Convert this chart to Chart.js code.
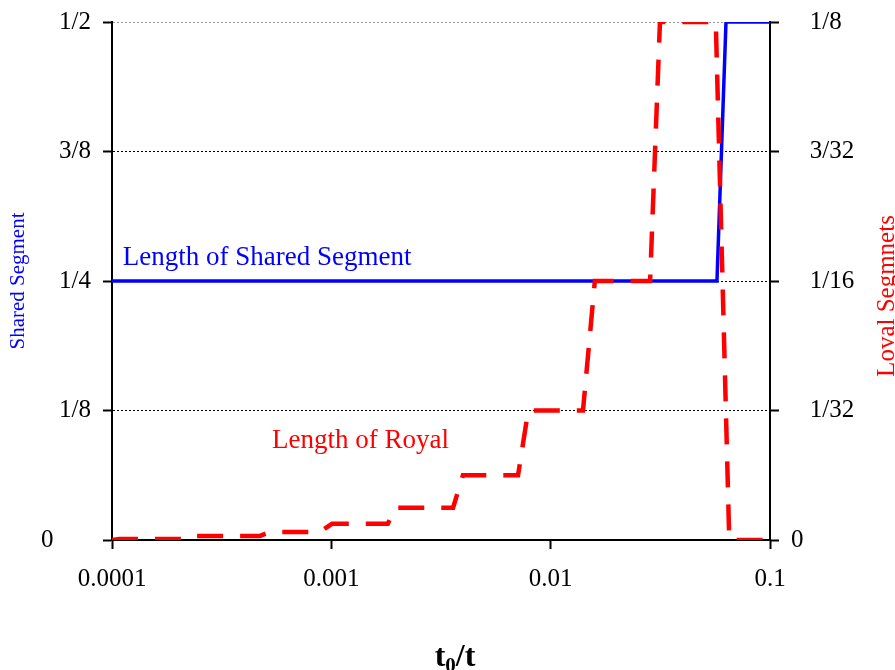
<!DOCTYPE html>
<html>
<head>
<meta charset="utf-8">
<title>Shared and Loval Segments</title>
<script src="https://cdn.jsdelivr.net/npm/chart.js@4.4.1/dist/chart.umd.min.js"></script>
<style>
  body { margin: 0; background: #fff; }
  canvas { display: block; }
</style>
</head>
<body>
<canvas id="myChart" width="895" height="670"></canvas>
<script>
"use strict"
// x axis (t0/t, log scale)
let xTicks = [0.0001, 0.001, 0.01, 0.1];
let xTickLabels = ['0.0001', '0.001', '0.01', '0.1'];
// left axis: shared segment
let leftTicks = [0, 0.125, 0.25, 0.375, 0.5];
let leftTickLabels = ['0', '1/8', '1/4', '3/8', '1/2'];
// right axis: loval segments
let rightTicks = [0, 0.03125, 0.0625, 0.09375, 0.125];
let rightTickLabels = ['0', '1/32', '1/16', '3/32', '1/8'];

let sharedX = [0.0001, 0.0573, 0.063, 0.1];
let sharedY = [0.25, 0.25, 0.5, 0.5];

let royalX = [0.0001, 0.000108, 0.000227, 0.000239, 0.000473, 0.000525, 0.000888, 0.001007,
    0.00181, 0.00195, 0.00359, 0.00398, 0.0071, 0.0079, 0.01404, 0.0159, 0.0284, 0.0315,
    0.0566, 0.0652, 0.1];
let royalY = [0, 0.000244, 0.000244, 0.000977, 0.000977, 0.00195, 0.00195, 0.0039,
    0.0039, 0.0078, 0.0078, 0.0156, 0.0156, 0.03125, 0.03125, 0.0625, 0.0625, 0.125,
    0.125, 0, 0];

const serif = "'Liberation Serif', 'Times New Roman', serif";

function toPoints(xs, ys) {
    let pts = [];
    for (let i = 0; i < xs.length; i++) {
        pts.push({ x: xs[i], y: ys[i] });
    }
    return pts;
}

// texts that chart.js can't place the way the original does
let textPlugin = {
    id: 'texts',
    afterDraw: function (chart) {
        let ctx = chart.ctx;
        let area = chart.chartArea;
        let xs = chart.scales.x;
        let yL = chart.scales.y;
        let yR = chart.scales.y1;
        ctx.save();
        ctx.textBaseline = 'alphabetic';
        ctx.textAlign = 'left';

        // series labels
        ctx.font = '27px ' + serif;
        ctx.fillStyle = '#0000ff';
        ctx.fillText('Length of Shared Segment', xs.getPixelForValue(0.000112), yL.getPixelForValue(0.25) - 16);
        ctx.fillStyle = '#ff0000';
        ctx.fillText('Length of Royal', xs.getPixelForValue(0.000536), yR.getPixelForValue(0.0222));

        // axis titles
        ctx.textAlign = 'center';
        ctx.textBaseline = 'middle';
        ctx.save();
        ctx.translate(18, (area.top + area.bottom) / 2);
        ctx.rotate(-Math.PI / 2);
        ctx.font = '21px ' + serif;
        ctx.fillStyle = '#0000ff';
        ctx.fillText('Shared Segment', 0, 0);
        ctx.restore();

        ctx.save();
        ctx.translate(887, (area.top + area.bottom) / 2 + 15);
        ctx.rotate(-Math.PI / 2);
        ctx.font = '25px ' + serif;
        ctx.fillStyle = '#ff0000';
        ctx.fillText('Loval Segmnets', 0, 0);
        ctx.restore();

        // t0/t with subscript
        ctx.textAlign = 'left';
        ctx.textBaseline = 'alphabetic';
        ctx.fillStyle = '#000';
        let big = 'bold 32px ' + serif;
        let small = 'bold 21px ' + serif;
        ctx.font = big;
        let w1 = ctx.measureText('t').width;
        let w3 = ctx.measureText('/t').width;
        ctx.font = small;
        let w2 = ctx.measureText('0').width;
        let cx = (area.left + area.right) / 2 + 14;
        let sx = cx - (w1 + w2 + w3) / 2;
        let base = 666;
        ctx.font = big;
        ctx.fillText('t', sx, base);
        ctx.font = small;
        ctx.fillText('0', sx + w1, base + 6);
        ctx.font = big;
        ctx.fillText('/t', sx + w1 + w2, base);
        ctx.restore();
    }
};

let ctx = document.getElementById('myChart').getContext('2d');
let myChart = new Chart(ctx, {
    type: 'scatter',
    data: {
        datasets: [{
            label: 'Length of Shared Segment',
            data: toPoints(sharedX, sharedY),
            yAxisID: 'y',
            showLine: true,
            borderColor: '#0000ff',
            borderWidth: 3.5,
            pointRadius: 0,
            order: 1
        }, {
            label: 'Length of Royal',
            data: toPoints(royalX, royalY),
            yAxisID: 'y1',
            showLine: true,
            borderColor: '#ff0000',
            borderWidth: 4.5,
            borderDash: [26, 17],
            pointRadius: 0,
            order: 0
        }]
    },
    options: {
        responsive: false,
        animation: false,
        layout: { padding: { top: 22, left: 0, right: 0, bottom: 0 } },
        plugins: {
            legend: { display: false },
            tooltip: { enabled: false }
        },
        scales: {
            x: {
                type: 'logarithmic',
                position: 'bottom',
                min: 0.0001,
                max: 0.1,
                afterBuildTicks: function (scale) {
                    scale.ticks = xTicks.map(v => ({ value: v }));
                },
                afterFit: function (scale) { scale.height = 130; },
                grid: { drawOnChartArea: false, tickLength: 9, tickColor: '#000', tickWidth: 2 },
                border: { color: '#000', width: 2 },
                ticks: {
                    autoSkip: false,
                    maxRotation: 0,
                    padding: 15,
                    color: '#000',
                    font: { family: serif, size: 25 },
                    callback: function (value, index) { return xTickLabels[index]; }
                }
            },
            y: {
                type: 'linear',
                position: 'left',
                min: 0,
                max: 0.5,
                afterBuildTicks: function (scale) {
                    scale.ticks = leftTicks.map(v => ({ value: v }));
                },
                afterFit: function (scale) { scale.width = 112; },
                grid: {
                    color: function (c) { return c.tick && c.tick.value === 0.5 ? '#999' : '#000'; },
                    lineWidth: 1,
                    tickLength: 9,
                    tickColor: '#000',
                    tickWidth: 2
                },
                border: { color: '#000', width: 2, dash: [2, 2] },
                ticks: {
                    padding: 12,
                    color: '#000',
                    font: { family: serif, size: 25, lineHeight: 0.4 },
                    callback: function (value, index) {
                        let lab = leftTickLabels[index];
                        return lab === '0' ? lab + '      ' : lab;
                    }
                }
            },
            y1: {
                type: 'linear',
                position: 'right',
                min: 0,
                max: 0.125,
                afterBuildTicks: function (scale) {
                    scale.ticks = rightTicks.map(v => ({ value: v }));
                },
                afterFit: function (scale) { scale.width = 125; },
                grid: { drawOnChartArea: false, tickLength: 9, tickColor: '#000', tickWidth: 2 },
                border: { color: '#000', width: 2 },
                ticks: {
                    padding: 12,
                    color: '#000',
                    font: { family: serif, size: 25, lineHeight: 0.4 },
                    callback: function (value, index) {
                        let lab = rightTickLabels[index];
                        return lab === '0' ? lab : '   ' + lab;
                    }
                }
            }
        }
    },
    plugins: [textPlugin]
});
</script>
</body>
</html>
